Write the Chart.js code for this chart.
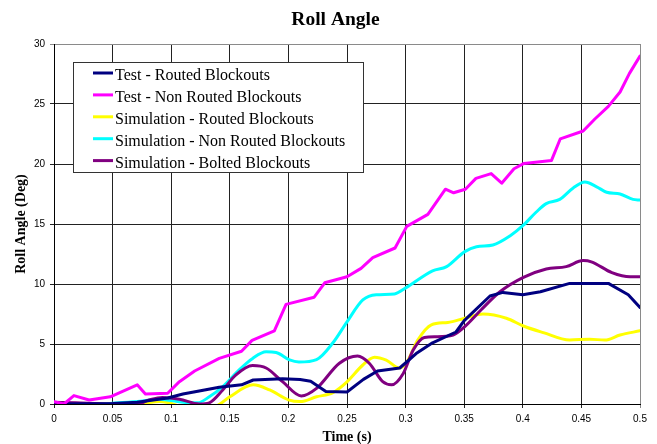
<!DOCTYPE html>
<html>
<head>
<meta charset="utf-8">
<script src="https://cdn.jsdelivr.net/npm/chart.js@4.4.1/dist/chart.umd.min.js"></script>
<style>
  html, body { margin: 0; padding: 0; background: #fff; }
  #wrap { width: 657px; height: 444px; }
</style>
</head>
<body>
<div id="wrap"><canvas id="c" width="657" height="444"></canvas></div>
<script>
// Roll angle (deg) against time (s) for the blockout configurations.
const seriesLabels = [
  'Test - Routed Blockouts',
  'Test - Non Routed Blockouts',
  'Simulation - Routed Blockouts',
  'Simulation - Non Routed Blockouts',
  'Simulation - Bolted Blockouts'
];
const seriesColors = ['#000080', '#FF00FF', '#FFFF00', '#00FFFF', '#800080'];

const testRoutedTime  = [0, 0.05, 0.071, 0.097, 0.11, 0.125, 0.141, 0.16, 0.17, 0.195, 0.21, 0.219, 0.232, 0.25, 0.264, 0.276, 0.295, 0.309, 0.323, 0.343, 0.35, 0.372, 0.383, 0.4, 0.415, 0.44, 0.473, 0.49, 0.5];
const testRoutedAngle = [0, 0.05, 0.15, 0.5, 0.83, 1.1, 1.4, 1.6, 2.0, 2.1, 2.05, 1.9, 1.05, 1.0, 2.05, 2.75, 3.0, 4.2, 5.1, 6.0, 6.95, 9.0, 9.3, 9.1, 9.35, 10.05, 10.05, 9.1, 8.05];

const testNonRoutedTime  = [0, 0.0085, 0.017, 0.03, 0.048, 0.071, 0.078, 0.097, 0.107, 0.12, 0.141, 0.16, 0.169, 0.188, 0.198, 0.222, 0.231, 0.25, 0.262, 0.272, 0.291, 0.301, 0.319, 0.334, 0.341, 0.351, 0.36, 0.373, 0.382, 0.3925, 0.401, 0.4245, 0.432, 0.4515, 0.4615, 0.473, 0.483, 0.491, 0.5];
const testNonRoutedAngle = [0.2, 0, 0.7, 0.33, 0.6, 1.6, 0.83, 0.9, 1.86, 2.75, 3.8, 4.4, 5.3, 6.1, 8.3, 8.9, 10.1, 10.6, 11.3, 12.2, 13.0, 14.8, 15.8, 17.9, 17.6, 17.9, 18.8, 19.2, 18.4, 19.6, 20.05, 20.3, 22.1, 22.75, 23.75, 24.8, 26.0, 27.55, 29.0];

const simRoutedTime  = [0, 0.05, 0.075, 0.09, 0.1, 0.11, 0.125, 0.14, 0.15, 0.17, 0.184, 0.2, 0.21, 0.224, 0.238, 0.25, 0.2635, 0.2735, 0.2835, 0.295, 0.3005, 0.3105, 0.322, 0.336, 0.3505, 0.366, 0.386, 0.4005, 0.4175, 0.44, 0.457, 0.47, 0.483, 0.5];
const simRoutedAngle = [0, 0, 0.05, 0.2, 0.05, -0.3, -0.6, -0.1, 0.6, 1.6, 1.17, 0.35, 0.2, 0.6, 0.95, 1.85, 3.25, 3.9, 3.65, 3.0, 3.4, 5.35, 6.6, 6.8, 7.15, 7.5, 7.15, 6.5, 5.95, 5.33, 5.4, 5.33, 5.75, 6.1];

const simNonRoutedTime  = [0, 0.02, 0.048, 0.071, 0.09, 0.11, 0.1225, 0.1325, 0.144, 0.158, 0.1695, 0.181, 0.1895, 0.201, 0.209, 0.224, 0.238, 0.25, 0.2635, 0.275, 0.2905, 0.3005, 0.323, 0.335, 0.3505, 0.3605, 0.3745, 0.389, 0.4005, 0.4115, 0.42, 0.4315, 0.443, 0.453, 0.463, 0.4715, 0.483, 0.494, 0.5];
const simNonRoutedAngle = [0.05, -0.1, 0.05, 0.2, 0.4, 0.15, 0.1, 0.6, 1.45, 2.85, 3.8, 4.35, 4.3, 3.67, 3.5, 3.7, 5.1, 6.85, 8.67, 9.1, 9.17, 9.7, 11.1, 11.45, 12.7, 13.1, 13.25, 14.0, 14.9, 16.0, 16.7, 17.05, 18.0, 18.5, 18.1, 17.65, 17.5, 17.05, 17.0];

const simBoltedTime  = [0, 0.0185, 0.048, 0.071, 0.081, 0.0925, 0.107, 0.124, 0.1325, 0.144, 0.155, 0.1695, 0.181, 0.195, 0.211, 0.224, 0.2435, 0.259, 0.269, 0.2805, 0.288, 0.298, 0.3065, 0.316, 0.326, 0.3405, 0.3505, 0.3645, 0.3805, 0.4005, 0.42, 0.437, 0.4515, 0.4585, 0.476, 0.4915, 0.5];
const simBoltedAngle = [0.15, 0.1, 0, 0, 0.33, 0.55, 0.4, 0, 0.1, 1.17, 2.4, 3.2, 3.0, 1.86, 0.67, 1.3, 3.4, 4.0, 3.4, 1.86, 1.6, 2.55, 4.5, 5.55, 5.6, 5.75, 6.45, 7.85, 9.35, 10.55, 11.25, 11.45, 11.95, 11.85, 10.95, 10.6, 10.6];

const chartTitle = 'Roll Angle';
const xAxisTitle = 'Time (s)';
const yAxisTitle = 'Roll Angle (Deg)';

const SERIF = '"Liberation Serif", "Times New Roman", serif';
const SANS = '"Liberation Sans", Arial, sans-serif';

function points(times, values) {
  return times.map((t, i) => ({ x: t, y: values[i] }));
}

const seriesData = [
  { pts: points(testRoutedTime, testRoutedAngle), smooth: false },
  { pts: points(testNonRoutedTime, testNonRoutedAngle), smooth: false },
  { pts: points(simRoutedTime, simRoutedAngle), smooth: true },
  { pts: points(simNonRoutedTime, simNonRoutedAngle), smooth: true },
  { pts: points(simBoltedTime, simBoltedAngle), smooth: true }
];

// Draw order: simulation curves below, test curves on top
const drawOrder = [1, 0, 4, 3, 2];

const datasets = seriesData.map((s, i) => ({
  label: seriesLabels[i],
  data: s.pts,
  borderColor: seriesColors[i],
  backgroundColor: seriesColors[i],
  borderWidth: 3,
  pointRadius: 0,
  fill: false,
  tension: 0,
  cubicInterpolationMode: s.smooth ? 'monotone' : 'default',
  borderJoinStyle: 'round',
  borderCapStyle: 'round',
  order: drawOrder[i]
}));

// Centered chart heading
const headingPlugin = {
  id: 'heading',
  afterDraw(chart) {
    const ctx = chart.ctx;
    ctx.save();
    ctx.fillStyle = '#000';
    ctx.font = 'bold 19.5px ' + SERIF;
    ctx.textAlign = 'center';
    ctx.textBaseline = 'alphabetic';
    ctx.fillText(chartTitle, 335.5, 24.5);
    ctx.restore();
  }
};

// Boxed legend sitting inside the plot area
const boxLegendPlugin = {
  id: 'boxLegend',
  afterDraw(chart) {
    const ctx = chart.ctx;
    const box = { x: 73.5, y: 62.5, w: 290, h: 110 };
    ctx.save();
    ctx.fillStyle = '#fff';
    ctx.fillRect(box.x, box.y, box.w, box.h);
    ctx.strokeStyle = '#333';
    ctx.lineWidth = 1;
    ctx.strokeRect(box.x, box.y, box.w, box.h);
    ctx.font = '16px ' + SERIF;
    ctx.textAlign = 'left';
    ctx.textBaseline = 'alphabetic';
    chart.data.datasets.forEach((ds, i) => {
      const base = 80 + i * 21.9;
      ctx.strokeStyle = ds.borderColor;
      ctx.lineWidth = 3;
      ctx.lineCap = 'butt';
      ctx.beginPath();
      ctx.moveTo(93, base - 7);
      ctx.lineTo(113, base - 7);
      ctx.stroke();
      ctx.fillStyle = '#000';
      ctx.fillText(ds.label, 115, base);
    });
    ctx.restore();
  }
};

new Chart(document.getElementById('c').getContext('2d'), {
  type: 'line',
  data: { datasets },
  options: {
    responsive: false,
    animation: false,
    devicePixelRatio: 1,
    layout: { padding: { top: 44, right: 17, bottom: 0, left: 0 } },
    plugins: {
      legend: { display: false },
      title: { display: false },
      tooltip: { enabled: false }
    },
    scales: {
      x: {
        type: 'linear',
        min: 0,
        max: 0.5,
        afterFit(scale) { scale.height = 40; },
        ticks: {
          stepSize: 0.05,
          color: '#000',
          padding: 5,
          font: { family: SANS, size: 10 },
          maxRotation: 0,
          callback: v => String(Number(v.toFixed(2)))
        },
        grid: {
          color: c => (c.tick && Math.abs(c.tick.value - 0.5) < 1e-9) ? '#8a8a8a' : '#222',
          lineWidth: 1,
          tickLength: 4,
          drawTicks: true
        },
        border: { color: '#000', width: 1 },
        title: {
          display: true,
          text: xAxisTitle,
          color: '#000',
          font: { family: SERIF, size: 14, weight: 'bold', lineHeight: 1 },
          padding: { top: 0, bottom: 0 }
        }
      },
      y: {
        min: 0,
        max: 30,
        afterFit(scale) { scale.width = 54; },
        ticks: {
          stepSize: 5,
          color: '#000',
          padding: 5,
          font: { family: SANS, size: 10 }
        },
        grid: {
          color: c => (c.tick && c.tick.value === 30) ? '#8a8a8a' : '#222',
          lineWidth: 1,
          tickLength: 4,
          drawTicks: true
        },
        border: { color: '#000', width: 1 },
        title: {
          display: true,
          text: yAxisTitle,
          color: '#000',
          font: { family: SERIF, size: 14, weight: 'bold', lineHeight: 1.2 },
          padding: { top: 13, bottom: 0 }
        }
      }
    }
  },
  plugins: [headingPlugin, boxLegendPlugin]
});
</script>
</body>
</html>
